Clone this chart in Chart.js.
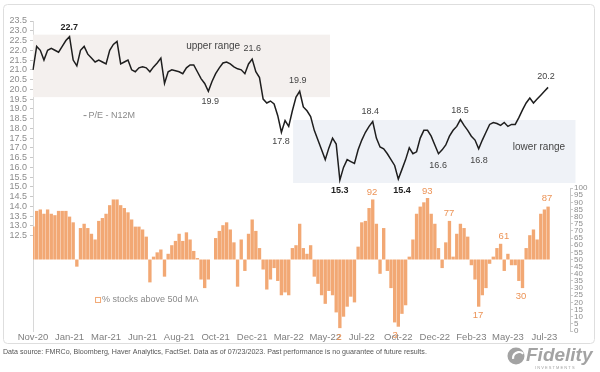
<!DOCTYPE html>
<html>
<head>
<meta charset="utf-8">
<script src="https://cdn.jsdelivr.net/npm/chart.js@4.4.0/dist/chart.umd.min.js"></script>
<style>
  body { margin: 0; background: #fff; }
</style>
</head>
<body>
<canvas id="chart" width="600" height="372"></canvas>
<script>
// weekly points, first one on 2020-11-06
const startWeek = '2020-11-06';
const weekCount = 148;   // axis runs a little past the last data point
const tickLabels = ['Nov-20', 'Jan-21', 'Mar-21', 'Jun-21', 'Aug-21', 'Oct-21', 'Dec-21', 'Mar-22',
                    'May-22', 'Jul-22', 'Oct-22', 'Dec-22', 'Feb-23', 'May-23', 'Jul-23'];

// forward P/E (next 12 months)
const peN12M = [
  21.0, 22.2, 22.0, 21.5, 22.0, 22.1, 22.0, 21.9, 22.2, 22.5,
  22.7, 21.5, 21.2, 22.0, 22.2, 21.8, 21.6, 21.4, 21.5, 21.4,
  21.3, 22.0, 22.3, 22.45, 21.3, 21.4, 21.5, 21.0, 20.9, 21.1,
  21.15, 21.1, 20.9, 21.15, 21.35, 21.6, 20.3, 20.9, 21.0, 20.95,
  20.9, 20.8, 21.1, 21.25, 21.25, 20.9, 20.55, 20.3, 19.9, 20.4,
  20.8, 21.1, 21.35, 21.4, 21.3, 21.15, 21.05, 21.0, 20.8, 21.3,
  21.55, 20.9, 20.6, 19.5, 19.3, 19.4, 19.25, 18.65, 17.8, 18.4,
  18.1, 18.9, 19.6, 19.9, 19.1, 18.9, 18.6, 17.9, 17.4, 16.9,
  16.4, 17.0, 17.5, 17.2, 15.35, 16.0, 16.4, 16.3, 16.2, 16.9,
  17.4, 17.8, 18.1, 18.35, 17.5, 17.05, 16.95, 16.7, 16.4, 16.1,
  15.4, 15.9, 16.4, 17.0, 16.7, 16.8, 17.5, 17.9, 17.9, 17.6,
  17.15, 16.7, 16.9, 17.15, 17.6, 17.9, 18.1, 18.45, 18.15, 17.9,
  17.6, 17.4, 16.95, 17.4, 17.8, 18.2, 18.3, 18.25, 18.15, 18.3,
  18.1, 18.2, 18.2, 18.55, 18.95, 19.3, 19.55, 19.3, 19.5, 19.7,
  19.9, 20.1
];

// % of stocks above their 50 day moving average (bars hang from 50)
const pctAbove50d = [
  73, 84, 85, 82, 85, 82, 81, 84, 84, 84,
  80, 76, 45, 72, 75, 72, 68, 64, 77, 79,
  82, 88, 92, 92, 88, 86, 83, 78, 73, 73,
  71, 66, 34, 52, 55, 57, 38, 54, 60, 63,
  68, 63, 69, 64, 56, 51, 36, 30, 36, 50,
  65, 70, 74, 76, 71, 62, 31, 64, 42, 68,
  78, 70, 58, 43, 29, 36, 44, 35, 25, 27,
  25, 58, 60, 75, 58, 54, 60, 38, 33, 25,
  19, 28, 25, 13, 2, 10, 17, 24, 20, 59,
  76, 77, 86, 92, 75, 40, 72, 42, 30, 6,
  3, 12, 18, 52, 64, 82, 87, 90, 93, 82,
  75, 58, 44, 62, 77, 52, 68, 75, 72, 66,
  46, 36, 17, 25, 30, 47, 52, 58, 61, 42,
  54, 46, 46, 35, 30, 58, 67, 71, 64, 82,
  85, 87
];
const barBase = 50;

// shaded ranges, in week index / P/E units
const upperRange = { from: 0, to: 81.3, low: 19.6, high: 22.8 };
const lowerRange = { from: 71.2, to: 148.5, low: 15.2, high: 18.43 };

// callouts: [week index, value, text, bold]
const peNotes = [
  [9.9, 23.19, '22.7', true], [49.3, 22.22, 'upper range', false], [60, 22.07, '21.6', false],
  [48.5, 19.4, '19.9', false], [72.5, 20.43, '19.9', false], [67.9, 17.35, '17.8', false],
  [92.3, 18.84, '18.4', false], [84, 14.84, '15.3', true], [101, 14.84, '15.4', true],
  [116.9, 18.94, '18.5', false], [110.9, 16.12, '16.6', false], [122.1, 16.33, '16.8', false],
  [140.4, 20.68, '20.2', false], [138.5, 17.05, 'lower range', false]
];
const pctNotes = [
  [92.8, 97.2, '92'], [107.9, 97.9, '93'], [113.9, 82.5, '77'], [128.9, 66.4, '61'],
  [140.7, 93, '87'], [121.8, 11.2, '17'], [133.6, 24.5, '30'], [83.8, -4.2, '2'], [99.1, -2.8, '3']
];
const peLegend = [15.2, 18.68, 'P/E - N12M'];
const pctLegend = [18.9, 21.7, '% stocks above 50d MA'];

const weeks = [];
for (let i = 0; i < weekCount; i++) {
  let d = new Date(startWeek + 'T12:00:00');
  d.setDate(d.getDate() + 7 * i);
  weeks.push(d.toISOString().slice(0, 10));
}

const FONT = '"Liberation Sans", Arial, sans-serif';
const ORANGE = '#f2a874';

const decorations = {
  id: 'decorations',
  beforeDatasetsDraw(chart) {
    const { ctx, scales: { x, y } } = chart;
    ctx.save();
    [[upperRange, '#f4f0ee'], [lowerRange, '#eff2f7']].forEach(([r, c]) => {
      const x0 = x.getPixelForValue(r.from), x1 = x.getPixelForValue(r.to);
      const y0 = y.getPixelForValue(r.high), y1 = y.getPixelForValue(r.low);
      ctx.fillStyle = c;
      ctx.fillRect(x0, y0, x1 - x0, y1 - y0);
    });
    ctx.restore();
  },
  afterDatasetsDraw(chart) {
    const { ctx, scales: { x, y, y1 }, chartArea } = chart;
    ctx.save();
    // right axis line only spans 0..100
    ctx.strokeStyle = '#c8c8c8';
    ctx.lineWidth = 1;
    ctx.beginPath();
    ctx.moveTo(chartArea.right + 0.5, y1.getPixelForValue(0));
    ctx.lineTo(chartArea.right + 0.5, y1.getPixelForValue(100));
    ctx.stroke();

    ctx.textAlign = 'center';
    ctx.textBaseline = 'middle';
    peNotes.forEach(([i, v, t, b]) => {
      ctx.font = (b ? 'bold ' : '') + (t.length > 5 ? '10px ' : '9px ') + FONT;
      ctx.fillStyle = b ? '#222' : '#444';
      ctx.fillText(t, x.getPixelForValue(i), y.getPixelForValue(v));
    });
    ctx.font = '9.5px ' + FONT;
    ctx.fillStyle = '#ec9356';
    pctNotes.forEach(([i, v, t]) => {
      ctx.fillText(t, x.getPixelForValue(i), y1.getPixelForValue(v));
    });

    // in-chart legends
    ctx.textAlign = 'left';
    ctx.font = '9px ' + FONT;
    ctx.fillStyle = '#8a8a8a';
    let lx = x.getPixelForValue(peLegend[0]), ly = y.getPixelForValue(peLegend[1]);
    ctx.fillRect(lx - 5, ly, 3, 1);
    ctx.fillText(peLegend[2], lx, ly);
    lx = x.getPixelForValue(pctLegend[0]); ly = y1.getPixelForValue(pctLegend[1]);
    ctx.strokeStyle = ORANGE;
    ctx.strokeRect(lx - 6.5, ly - 2.5, 5, 5);
    ctx.fillText(pctLegend[2], lx, ly);
    ctx.restore();
  },
  afterDraw(chart) {
    const { ctx } = chart;
    ctx.save();
    ctx.strokeStyle = '#dedede';
    ctx.lineWidth = 1;
    ctx.beginPath();
    ctx.roundRect(3.5, 4.5, 591, 339, 4);
    ctx.stroke();

    ctx.fillStyle = '#555';
    ctx.font = '7.1px ' + FONT;
    ctx.textBaseline = 'middle';
    ctx.fillText('Data source: FMRCo, Bloomberg, Haver Analytics, FactSet. Data as of 07/23/2023. Past performance is no guarantee of future results.', 3, 352);

    // Fidelity mark
    ctx.fillStyle = '#a3a3a3';
    ctx.beginPath();
    ctx.arc(516, 356, 8.5, 0, Math.PI * 2);
    ctx.fill();
    ctx.strokeStyle = '#fff';
    ctx.lineWidth = 2.2;
    ctx.beginPath();
    ctx.arc(519, 358, 6, Math.PI * 0.95, Math.PI * 1.75);
    ctx.stroke();
    ctx.fillStyle = '#a3a3a3';
    ctx.font = 'italic bold 19px ' + FONT;
    ctx.fillText('Fidelity', 526, 356);
    ctx.font = '4px ' + FONT;
    ctx.fillText('I N V E S T M E N T S', 535, 368);
    ctx.restore();
  }
};

new Chart(document.getElementById('chart'), {
  data: {
    labels: weeks,
    datasets: [
      {
        type: 'line',
        label: 'P/E - N12M',
        data: peN12M,
        yAxisID: 'y',
        borderColor: '#1e1e1e',
        borderWidth: 1.5,
        pointRadius: 0,
        tension: 0,
        order: 0
      },
      {
        type: 'bar',
        label: '% stocks above 50d MA',
        data: pctAbove50d.map(v => [barBase, v]),
        yAxisID: 'y1',
        backgroundColor: ORANGE,
        barPercentage: 0.92,
        categoryPercentage: 1,
        order: 1
      }
    ]
  },
  options: {
    responsive: false,
    animation: false,
    devicePixelRatio: 1,
    layout: { padding: { top: 21, left: 0, right: 0, bottom: 0 } },
    plugins: { legend: { display: false }, tooltip: { enabled: false } },
    scales: {
      x: {
        type: 'category',
        offset: false,
        grid: { display: false, drawTicks: false, tickLength: 0 },
        border: { display: false },
        afterFit: s => { s.height = 41; },
        ticks: {
          autoSkip: false,
          maxRotation: 0,
          padding: 1,
          color: '#808080',
          font: { family: FONT, size: 9.5 },
          callback: (v, i) => (i % 10 === 0 && tickLabels[i / 10]) ? tickLabels[i / 10] : ''
        }
      },
      y: {
        position: 'left',
        min: 7.62,
        max: 23.5,
        afterFit: s => { s.width = 33; },
        afterBuildTicks: s => {
          const t = [];
          for (let v = 12.5; v <= 23.5; v += 0.5) t.push({ value: v });
          s.ticks = t;
        },
        grid: { drawOnChartArea: false, tickLength: 3, color: '#c8c8c8' },
        border: { display: true, color: '#d8d8d8' },
        ticks: {
          autoSkip: false,
          padding: 3,
          color: '#8c8c8c',
          font: { family: FONT, size: 9 },
          callback: v => v.toFixed(1)
        }
      },
      y1: {
        position: 'right',
        min: 0,
        max: 216.8,
        afterFit: s => { s.width = 30; },
        afterBuildTicks: s => {
          const t = [];
          for (let v = 0; v <= 100; v += 5) t.push({ value: v });
          s.ticks = t;
        },
        grid: { drawOnChartArea: false, tickLength: 3, color: '#c8c8c8' },
        border: { display: false },
        ticks: {
          autoSkip: false,
          padding: 1,
          color: '#8c8c8c',
          font: { family: FONT, size: 8 }
        }
      }
    }
  },
  plugins: [decorations]
});
</script>
</body>
</html>
